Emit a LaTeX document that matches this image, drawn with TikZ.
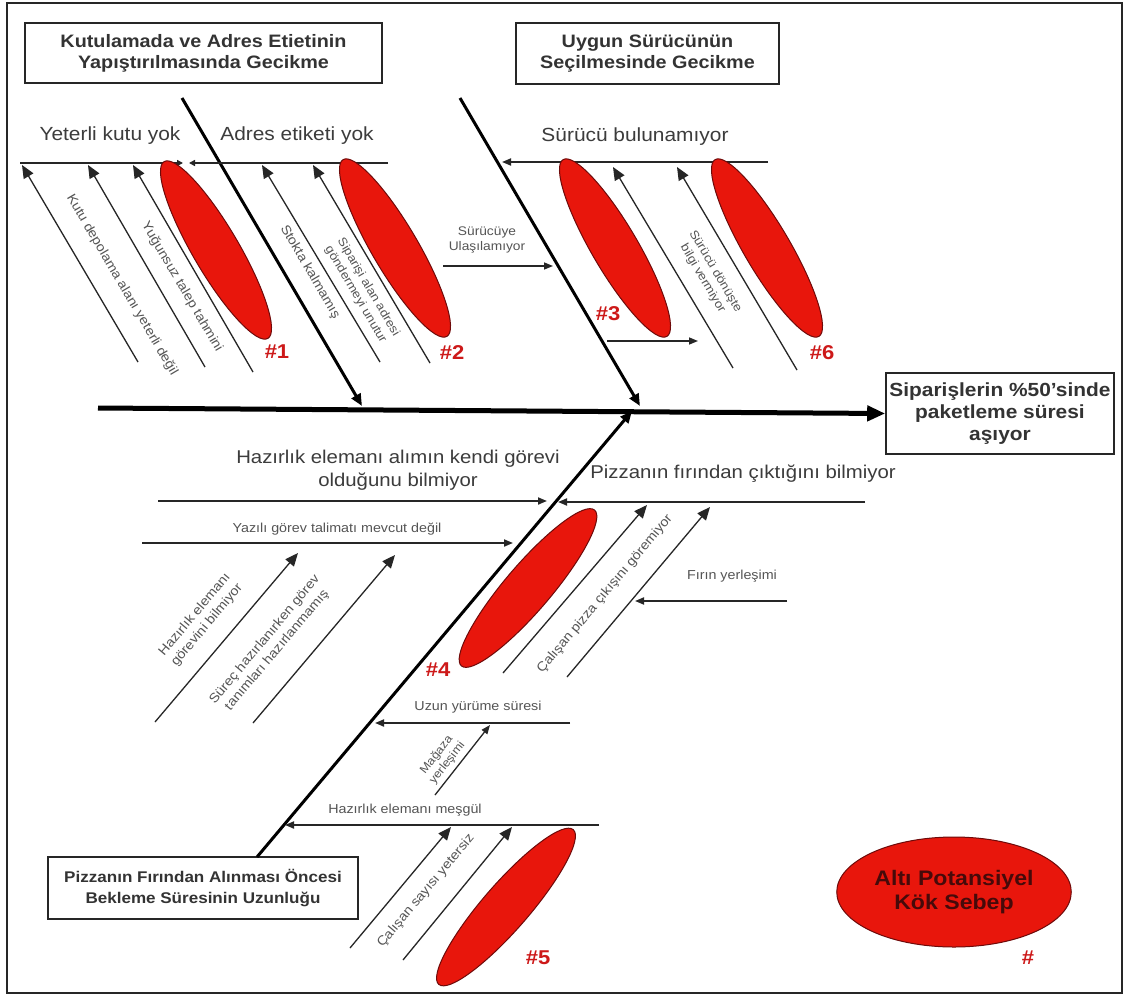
\documentclass[tikz,border=0pt]{standalone}
\usepackage{fontspec}
\setmainfont{Liberation Sans}[FakeStretch=1.1]
\usetikzlibrary{arrows.meta,shapes.geometric}
\definecolor{lbl}{RGB}{85,85,85}
\definecolor{hd}{RGB}{60,60,60}
\definecolor{redfill}{RGB}{232,22,12}
\definecolor{redline}{RGB}{110,10,10}
\definecolor{hashred}{RGB}{205,25,25}
\definecolor{legtxt}{RGB}{70,10,10}
\begin{document}
\begin{tikzpicture}[x=1pt,y=-1pt,
  titlebox/.style={draw=black!85, line width=1.6pt, align=center, text=black!80, inner sep=0pt,
    font=\fontsize{18}{21}\selectfont\bfseries},
  branchlbl/.style={text=hd, align=center, inner sep=0pt, font=\fontsize{19}{23}\selectfont},
  smalllbl/.style={text=lbl, align=center, inner sep=0pt, font=\fontsize{13}{16}\selectfont},
  hashlbl/.style={text=hashred, inner sep=0pt, font=\fontsize{20}{22}\selectfont\bfseries},
  rootcause/.style={ellipse, draw=redline, line width=1pt, fill=redfill,
    minimum width=205pt, minimum height=46pt, inner sep=0pt},
  causearrow/.style={draw=black!85, line width=1.3pt, -{Triangle[length=13pt,width=11pt]}},
  harrow/.style={draw=black!85, line width=1.8pt, -{Triangle[length=9pt,width=7pt]}},
  bonearrow/.style={draw=black, line width=3pt, -{Triangle[length=12pt,width=10pt]}},
  spinearrow/.style={draw=black, line width=5pt, -{Triangle[length=18pt,width=15pt]}}
]
\useasboundingbox (0,0) rectangle (1128,999);
\fill[white] (0,0) rectangle (1128,999);
\draw[line width=1.6pt, black!85] (7,3) rectangle (1122,993);

% ---- boxes
\node[titlebox, minimum width=357pt, minimum height=60pt] (box1) at (203.5,53)
  {Kutulamada ve Adres Etietinin\\Yapıştırılmasında Gecikme};
\node[titlebox, minimum width=263pt, minimum height=61pt] (box2) at (647.5,53.5)
  {Uygun Sürücünün\\Seçilmesinde Gecikme};
\node[titlebox, minimum width=228pt, minimum height=81pt, font=\fontsize{19}{22}\selectfont\bfseries] (effect) at (1000,413.5)
  {Siparişlerin \%50'sinde\\paketleme süresi\\aşıyor};
\node[titlebox, minimum width=310pt, minimum height=62pt, font=\fontsize{15.5}{21}\selectfont\bfseries] (box4) at (203,888)
  {Pizzanın Fırından Alınması Öncesi\\Bekleme Süresinin Uzunluğu};

% ---- coordinates
\coordinate (spS) at (98,408);
\coordinate (b1s) at (182,98);  \coordinate (b1e) at (362,406);
\coordinate (b2s) at (460,98);  \coordinate (b2e) at (640,406);
\coordinate (b3s) at (257,857); \coordinate (b3e) at (632,411);

% ---- spine and bones
\draw[spinearrow] (spS) -- (effect.west);
\draw[bonearrow] (b1s) -- (b1e);
\draw[bonearrow] (b2s) -- (b2e);
\draw[bonearrow] (b3s) -- (b3e);

% ---- top-left branch
\node[branchlbl] (yky) at (110,136) {Yeterli kutu yok};
\node[branchlbl] (aey) at (297,136) {Adres etiketi yok};
\coordinate (h1a) at (20,163);  \coordinate (h1b) at (183,163);
\coordinate (h2a) at (388,163); \coordinate (h2b) at (189,163);
\draw[draw=black!85, line width=1.6pt, -{Triangle[length=6pt,width=6pt]}] (h1a) -- (h1b);
\draw[draw=black!85, line width=1.6pt, -{Triangle[length=6pt,width=6pt]}] (h2a) -- (h2b);

\coordinate (a1s) at (138,362); \coordinate (a1e) at (22,165);
\coordinate (a2s) at (205,367); \coordinate (a2e) at (88,165);
\coordinate (a3s) at (253,372); \coordinate (a3e) at (133,165);
\coordinate (c1s) at (380,362); \coordinate (c1e) at (262,165);
\coordinate (c2s) at (430,363); \coordinate (c2e) at (313,165);
\draw[causearrow] (a1s) -- (a1e);
\draw[causearrow] (a2s) -- (a2e);
\draw[causearrow] (a3s) -- (a3e);
\draw[causearrow] (c1s) -- (c1e);
\draw[causearrow] (c2s) -- (c2e);
\node[smalllbl, rotate=-59.6] (t1) at (122,285) {Kutu depolama alanı yeterli değil};
\node[smalllbl, rotate=-59.6] (t2) at (182,287) {Yuğunsuz talep tahmini};
\node[smalllbl, rotate=-59.6] (t3) at (310,272) {Stokta kalmamış};
\node[smalllbl, rotate=-59.6, font=\fontsize{12}{14.5}\selectfont] (t4) at (362,291) {Siparişi alan adresi\\göndermeyi unutur};

% ---- top-right branch
\node[branchlbl] (sbl) at (635,137) {Sürücü bulunamıyor};
\coordinate (s1a) at (768,162); \coordinate (s1b) at (502,162);
\draw[harrow] (s1a) -- (s1b);
\node[smalllbl, font=\fontsize{12.5}{15}\selectfont] (sul) at (487,240) {Sürücüye\\Ulaşılamıyor};
\coordinate (u1a) at (443,266); \coordinate (u1b) at (553,266);
\draw[harrow, line width=1.5pt] (u1a) -- (u1b);
\coordinate (u2a) at (607,341); \coordinate (u2b) at (698,341);
\draw[harrow, line width=1.5pt] (u2a) -- (u2b);
\coordinate (d1s) at (733,368); \coordinate (d1e) at (613,167);
\coordinate (d2s) at (797,370); \coordinate (d2e) at (677,167);
\draw[causearrow] (d1s) -- (d1e);
\draw[causearrow] (d2s) -- (d2e);
\node[smalllbl, rotate=-59.6, font=\fontsize{12}{14.5}\selectfont] (t6) at (709,275) {Sürücü dönüşte\\bilgi vermiyor};

% ---- bottom branch
\node[branchlbl, font=\fontsize{18.5}{23}\selectfont] (hea) at (398,470) {Hazırlık elemanı alımın kendi görevi\\olduğunu bilmiyor};
\node[branchlbl, font=\fontsize{18.5}{23}\selectfont] (pfc) at (743,474) {Pizzanın fırından çıktığını bilmiyor};
\coordinate (k1a) at (158,501); \coordinate (k1b) at (547,501);
\coordinate (k2a) at (865,502); \coordinate (k2b) at (558,502);
\draw[harrow] (k1a) -- (k1b);
\draw[harrow] (k2a) -- (k2b);
\node[smalllbl] (ygt) at (337,529) {Yazılı görev talimatı mevcut değil};
\coordinate (k3a) at (142,543); \coordinate (k3b) at (513,543);
\draw[harrow] (k3a) -- (k3b);
\coordinate (m1s) at (155,722); \coordinate (m1e) at (298,553);
\coordinate (m2s) at (253,723); \coordinate (m2e) at (395,555);
\draw[causearrow] (m1s) -- (m1e);
\draw[causearrow] (m2s) -- (m2e);
\node[smalllbl, rotate=50] (t7) at (201,620) {Hazırlık elemanı\\görevini bilmiyor};
\node[smalllbl, rotate=50] (t8) at (271,645) {Süreç hazırlanırken görev\\tanımları hazırlanmamış};
\coordinate (n1s) at (503,673); \coordinate (n1e) at (647,505);
\coordinate (n2s) at (567,677); \coordinate (n2e) at (710,507);
\draw[causearrow] (n1s) -- (n1e);
\draw[causearrow] (n2s) -- (n2e);
\node[smalllbl, rotate=50] (t9) at (605,594) {Çalışan pizza çıkışını göremiyor};
\node[smalllbl] (fyl) at (732,576) {Fırın yerleşimi};
\coordinate (f1a) at (787,601); \coordinate (f1b) at (635,601);
\draw[harrow] (f1a) -- (f1b);
\node[smalllbl] (uys) at (478,707) {Uzun yürüme süresi};
\coordinate (w1a) at (570,723); \coordinate (w1b) at (375,723);
\draw[harrow] (w1a) -- (w1b);
\coordinate (my1) at (435,795); \coordinate (my2) at (490,725);
\draw[causearrow, -{Triangle[length=9pt,width=7pt]}] (my1) -- (my2);
\node[smalllbl, rotate=52, font=\fontsize{11.5}{13.5}\selectfont] (t12) at (442,759) {Mağaza\\yerleşimi};
\node[smalllbl] (hem) at (405,810) {Hazırlık elemanı meşgül};
\coordinate (z1a) at (599,825); \coordinate (z1b) at (285,825);
\draw[harrow] (z1a) -- (z1b);
\coordinate (g1s) at (350,948); \coordinate (g1e) at (451,827);
\coordinate (g2s) at (403,960); \coordinate (g2e) at (512,827);
\draw[causearrow] (g1s) -- (g1e);
\draw[causearrow] (g2s) -- (g2e);
\node[smalllbl, rotate=50] (t14) at (426,891) {Çalışan sayısı yetersiz};

% ---- root-cause ellipses
\node[rootcause, rotate=-59.6] (e1) at (216,250) {};
\node[rootcause, rotate=-59.6] (e2) at (395,248) {};
\node[rootcause, rotate=-59.6] (e3) at (615,248) {};
\node[rootcause, rotate=-59.6] (e6) at (767,248) {};
\node[rootcause, rotate=49.5] (e4) at (528,588) {};
\node[rootcause, rotate=49] (e5) at (506,907) {};

\node[hashlbl] (h1) at (277,352) {\#1};
\node[hashlbl] (h2) at (452,353) {\#2};
\node[hashlbl] (h3) at (608,314) {\#3};
\node[hashlbl] (h4) at (438,670) {\#4};
\node[hashlbl] (h5) at (538,958) {\#5};
\node[hashlbl] (h6) at (822,353) {\#6};

% ---- legend
\node[ellipse, draw=redline, line width=1pt, fill=redfill, minimum width=222pt, minimum height=110pt,
  text=legtxt, align=center, font=\fontsize{21}{24}\selectfont\bfseries] (legend) at (954,892)
  {Altı Potansiyel\\Kök Sebep};
\node[hashlbl] (hleg) at (1028,958) {\#};
\end{tikzpicture}
\end{document}
